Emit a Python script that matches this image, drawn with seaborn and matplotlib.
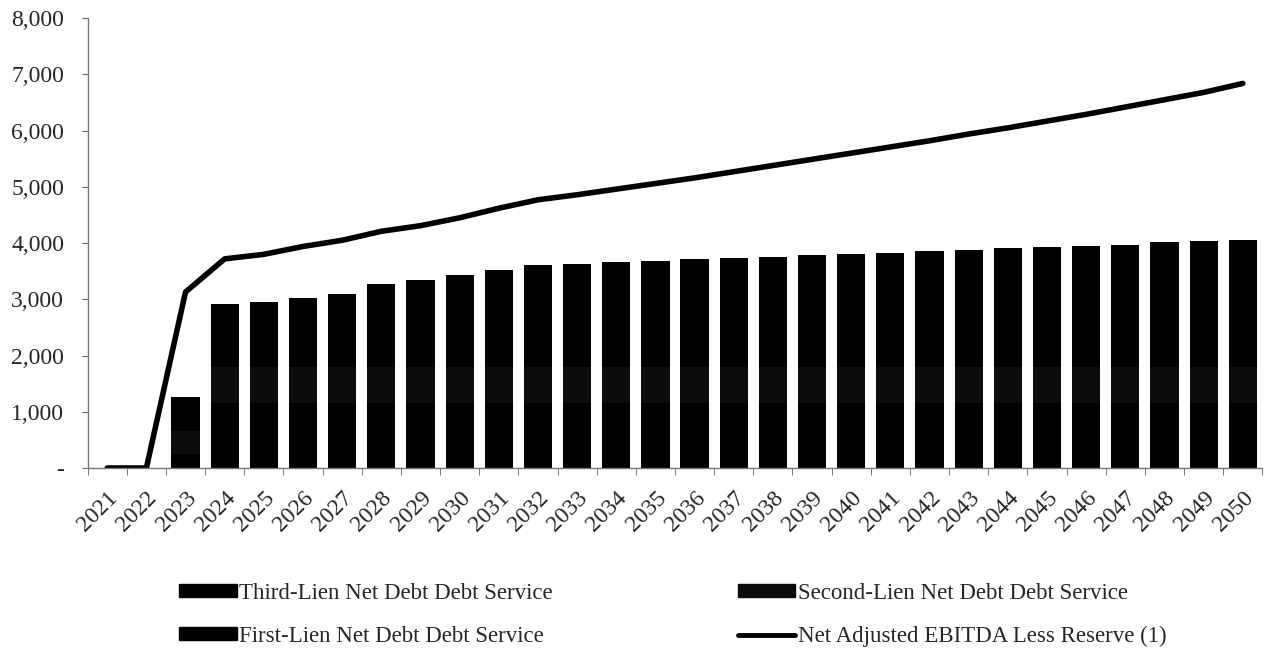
import matplotlib.pyplot as plt
import matplotlib.ticker as mticker
from matplotlib.patches import Patch
from matplotlib.lines import Line2D
import seaborn as sns
import numpy as np
import pandas as pd

years = [str(y) for y in range(2021, 2051)]

# debt service by lien (stacked)
first_lien = [0, 0, 250, 1150, 1150, 1150, 1150, 1150, 1150, 1150,
              1150, 1150, 1150, 1150, 1150, 1150, 1150, 1150, 1150, 1150,
              1150, 1150, 1150, 1150, 1150, 1150, 1150, 1150, 1150, 1150]
second_lien = [0, 0, 400, 650, 650, 650, 650, 650, 650, 650,
               650, 650, 650, 650, 650, 650, 650, 650, 650, 650,
               650, 650, 650, 650, 650, 650, 650, 650, 650, 650]
total_debt = [0, 0, 1270, 2910, 2960, 3030, 3100, 3280, 3350, 3430,
              3530, 3610, 3630, 3660, 3690, 3710, 3730, 3760, 3790, 3810,
              3830, 3860, 3875, 3905, 3925, 3945, 3975, 4015, 4035, 4055]
third_lien = [t - a - b for t, a, b in zip(total_debt, first_lien, second_lien)]

ebitda = [0, 0, 3130, 3720, 3800, 3940, 4050, 4210, 4310, 4450,
          4620, 4770, 4860, 4960, 5060, 5160, 5270, 5380, 5490, 5600,
          5710, 5820, 5940, 6050, 6170, 6290, 6420, 6550, 6680, 6840]

df = pd.DataFrame({'year': years, 'first': first_lien, 'second': second_lien,
                   'third': third_lien, 'ebitda': ebitda})

sns.set_style('white')
plt.rcParams['font.family'] = ['Liberation Serif', 'DejaVu Serif']

fig = plt.figure(figsize=(12.7, 6.5), dpi=100)
ax = fig.add_axes([0.069, 0.28, 0.925, 0.692])

c_first, c_second, c_third = '#000000', '#0c0c0c', '#000000'
w = 0.72
sns.barplot(data=df, x='year', y='first', color=c_first, width=w,
            saturation=1, linewidth=0, ax=ax)
sns.barplot(x=df['year'], y=df['second'], bottom=df['first'], color=c_second,
            width=w, saturation=1, linewidth=0, ax=ax)
sns.barplot(x=df['year'], y=df['third'], bottom=df['first'] + df['second'],
            color=c_third, width=w, saturation=1, linewidth=0, ax=ax)
sns.lineplot(x=np.arange(len(years)), y=df['ebitda'], color='black', lw=4,
             ax=ax)

ax.set_xlim(-0.5, len(years) - 0.5)
ax.set_ylim(0, 8000)
ax.set_xlabel('')
ax.set_ylabel('')
ax.yaxis.set_major_locator(mticker.MultipleLocator(1000))
ax.yaxis.set_major_formatter(mticker.FuncFormatter(
    lambda v, p: '-' if v == 0 else f'{v:,.0f}'))
ax.set_xticks(np.arange(len(years)))
ax.set_xticklabels(years, rotation=45, ha='right', rotation_mode='anchor')
ax.set_xticks(np.arange(len(years) + 1) - 0.5, minor=True)
ax.tick_params(axis='x', which='major', length=0, labelsize=17, pad=14)
ax.tick_params(axis='x', which='minor', length=5, color='#666666', bottom=True)
ax.tick_params(axis='y', length=4, color='#666666', labelsize=17, left=True,
               pad=13)

for s in ['top', 'right']:
    ax.spines[s].set_visible(False)
for s in ['left', 'bottom']:
    ax.spines[s].set_color('#777777')
    ax.spines[s].set_linewidth(1)

handles = [Patch(color=c_third), Patch(color=c_first),
           Patch(color=c_second), Line2D([], [], color='black', lw=3.5)]
labels = ['Third-Lien Net Debt Debt Service', 'First-Lien Net Debt Debt Service',
          'Second-Lien Net Debt Debt Service',
          'Net Adjusted EBITDA Less Reserve (1)']
fig.legend(handles, labels, ncol=2, loc='lower left',
           bbox_to_anchor=(0.125, -0.027), frameon=False, fontsize=16.5,
           handlelength=2.5, handleheight=0.5, handletextpad=0.1,
           columnspacing=8.1, labelspacing=0.95)

fig.savefig('out.png', dpi=100)
